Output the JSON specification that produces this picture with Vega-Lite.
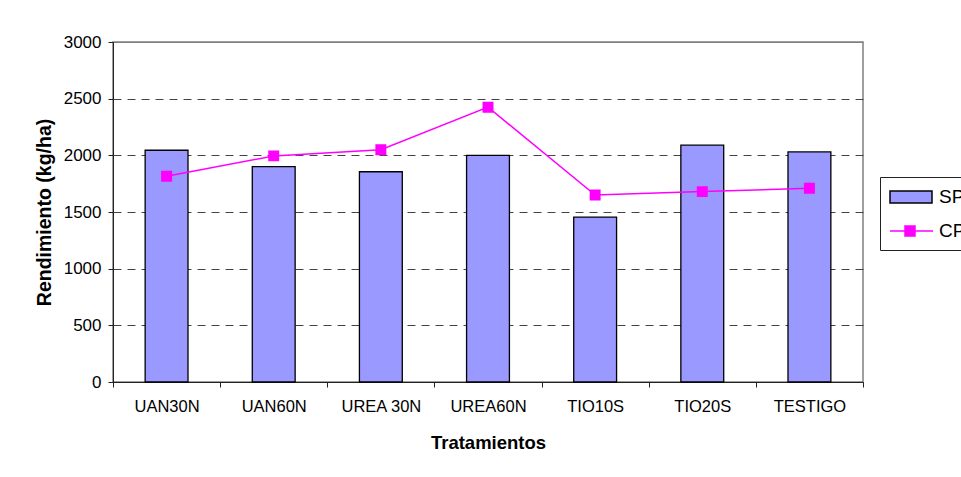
{
  "$schema": "https://vega.github.io/schema/vega-lite/v6.json",
  "width": 750,
  "height": 340,
  "autosize": {"type": "none"},
  "padding": {"left": 113, "top": 42, "right": 98, "bottom": 95},
  "background": "white",
  "config": {
    "font": "Liberation Sans",
    "view": {"stroke": "#808080", "strokeWidth": 1.5},
    "legend": {
      "orient": "none",
      "legendX": 767,
      "legendY": 135,
      "strokeColor": "#222",
      "fillColor": "white",
      "padding": 9,
      "labelFontSize": 19,
      "labelColor": "black",
      "labelOffset": 28,
      "rowPadding": 13,
      "symbolSize": 400,
      "symbolStrokeWidth": 1.5
    }
  },
  "data": {
    "values": [
      {"trat": "UAN30N", "serie": "SP", "valor": 2045},
      {"trat": "UAN60N", "serie": "SP", "valor": 1900},
      {"trat": "UREA 30N", "serie": "SP", "valor": 1855},
      {"trat": "UREA60N", "serie": "SP", "valor": 2000},
      {"trat": "TIO10S", "serie": "SP", "valor": 1455},
      {"trat": "TIO20S", "serie": "SP", "valor": 2090},
      {"trat": "TESTIGO", "serie": "SP", "valor": 2030},
      {"trat": "UAN30N", "serie": "CP", "valor": 1815},
      {"trat": "UAN60N", "serie": "CP", "valor": 1995},
      {"trat": "UREA 30N", "serie": "CP", "valor": 2050},
      {"trat": "UREA60N", "serie": "CP", "valor": 2425},
      {"trat": "TIO10S", "serie": "CP", "valor": 1650},
      {"trat": "TIO20S", "serie": "CP", "valor": 1680},
      {"trat": "TESTIGO", "serie": "CP", "valor": 1710}
    ]
  },
  "encoding": {
    "x": {
      "field": "trat",
      "type": "nominal",
      "sort": null,
      "scale": {"paddingInner": 0, "paddingOuter": 0},
      "axis": {
        "title": "Tratamientos",
        "titleFontSize": 18.5,
        "titleFontWeight": "bold",
        "titleColor": "black",
        "titlePadding": 19,
        "labelAngle": 0,
        "labelFontSize": 16.5,
        "labelColor": "black",
        "labelPadding": 11,
        "tickBand": "extent",
        "tickSize": 5,
        "tickColor": "#222",
        "domainColor": "#222",
        "grid": false
      }
    },
    "y": {
      "field": "valor",
      "type": "quantitative",
      "scale": {"domain": [0, 3000], "nice": false},
      "axis": {
        "title": "Rendimiento (kg/ha)",
        "titleFontSize": 19.5,
        "titleFontWeight": "bold",
        "titleColor": "black",
        "titlePadding": 9,
        "values": [0, 500, 1000, 1500, 2000, 2500, 3000],
        "format": "d",
        "labelFontSize": 17,
        "labelColor": "black",
        "labelPadding": 7,
        "tickSize": 5,
        "tickColor": "#222",
        "domainColor": "#222",
        "grid": true,
        "gridColor": {"condition": {"test": "datum.value === 3000", "value": "#808080"}, "value": "#444"},
        "gridDash": {"condition": {"test": "datum.value === 3000", "value": []}, "value": [8, 6]},
        "gridWidth": 1
      }
    }
  },
  "layer": [
    {
      "transform": [{"filter": "datum.serie === 'SP'"}],
      "mark": {"type": "bar", "width": {"band": 0.4}, "stroke": "black", "strokeWidth": 1.3, "opacity": 1},
      "encoding": {
        "fill": {
          "field": "serie",
          "type": "nominal",
          "scale": {"domain": ["SP", "CP"], "range": ["#9999FF", "#FF00FF"]},
          "legend": {
            "title": null,
            "encode": {
              "symbols": {
                "update": {
                  "shape": [
                    {"test": "datum.value === 'SP'", "value": "M-1,-0.6H3.2V0.6H-1Z"},
                    {"value": "M-1,0H3.3M0.5,-0.5H1.5V0.5H0.5Z"}
                  ]
                }
              }
            }
          }
        }
      }
    },
    {
      "transform": [{"filter": "datum.serie === 'CP'"}],
      "mark": {"type": "line", "strokeWidth": 1.5, "point": {"filled": true, "fill": "#FF00FF", "shape": "square", "size": 80, "opacity": 1}},
      "encoding": {
        "stroke": {
          "field": "serie",
          "type": "nominal",
          "scale": {"domain": ["SP", "CP"], "range": ["black", "#FF00FF"]},
          "legend": {
            "title": null,
            "encode": {
              "symbols": {
                "update": {
                  "shape": [
                    {"test": "datum.value === 'SP'", "value": "M-1,-0.6H3.2V0.6H-1Z"},
                    {"value": "M-1,0H3.3M0.5,-0.5H1.5V0.5H0.5Z"}
                  ]
                }
              }
            }
          }
        }
      }
    }
  ]
}
